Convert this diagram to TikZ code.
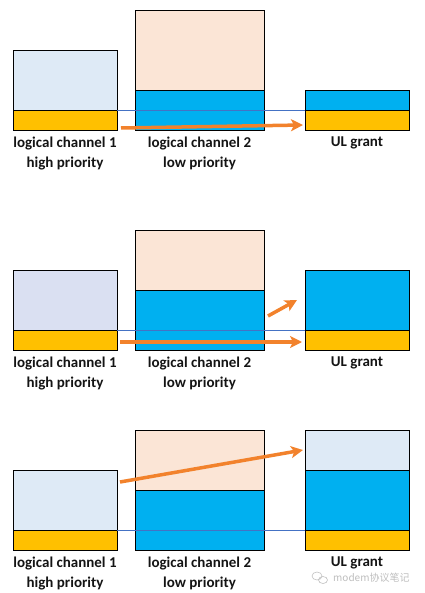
\documentclass[tikz,border=0pt]{standalone}
\usepackage{fontspec}
\setmainfont{Carlito}
\newfontfamily\cjk{Noto Sans CJK SC}
\usetikzlibrary{arrows.meta,positioning}
\definecolor{lcSky}   {RGB}{222,234,246}
\definecolor{lcLav}   {RGB}{218,224,242}
\definecolor{lcPeach} {RGB}{251,229,214}
\definecolor{lcBlue}  {RGB}{  0,176,240}
\definecolor{lcGold}  {RGB}{255,192,  0}
\definecolor{lcOrange}{RGB}{242,130, 44}
\definecolor{lcLine}  {RGB}{ 68,114,196}
\definecolor{lcInk}   {RGB}{ 20, 20, 20}
\definecolor{lcMark}  {RGB}{190,190,190}

\begin{document}
\begin{tikzpicture}[x=1pt,y=-1pt,
  font=\fontsize{15}{20}\selectfont\bfseries,
  cell/.style={rectangle,draw=black,line width=0.75pt,inner sep=0pt,
               outer sep=0pt,minimum width=104pt},
  wide/.style={cell,minimum width=129pt},
  lbl/.style={align=center,inner sep=0pt,text=lcInk},
  level/.style={draw=lcLine,line width=0.8pt},
  grant/.style={draw=lcOrange,line width=3.5pt,
                -{Stealth[length=12pt,width=12pt,inset=3pt]}}
]
\useasboundingbox (0,0) rectangle (424,593);

% --- Case 1: grant fits channel 1 only
\node[cell,fill=lcSky,minimum height=60pt,anchor=north west] (a1t) at (13,50) {};
\node[cell,fill=lcGold,minimum height=20pt,below=0pt of a1t] (a1y) {};
\node[wide,fill=lcPeach,minimum height=80pt,anchor=north west] (b1t) at (135,10) {};
\node[wide,fill=lcBlue,minimum height=40pt,below=0pt of b1t] (b1b) {};
\node[cell,fill=lcBlue,minimum height=20pt,anchor=north west] (c1t) at (305,90) {};
\node[cell,fill=lcGold,minimum height=20pt,below=0pt of c1t] (c1y) {};
\draw[level] (a1t.south east) -- (c1y.north west);
\node[lbl,below=7pt of a1y] (a1l) {logical channel 1\\high priority};
\node[lbl,below=7pt of b1b] (b1l) {logical channel 2\\low priority};
\node[lbl,below=7pt of c1y] (c1l) {UL grant};
\coordinate (p1s) at ([xshift=4pt,yshift=2pt]a1y.south east);
\coordinate (p1e) at ([xshift=-2pt,yshift=-5pt]c1y.west);
\draw[grant] (p1s) -- (p1e);

% --- Case 2: leftover goes to channel 2
\node[cell,fill=lcLav,minimum height=60pt,anchor=north west] (a2t) at (13,270) {};
\node[cell,fill=lcGold,minimum height=20pt,below=0pt of a2t] (a2y) {};
\node[wide,fill=lcPeach,minimum height=60pt,anchor=north west] (b2t) at (135,230) {};
\node[wide,fill=lcBlue,minimum height=60pt,below=0pt of b2t] (b2b) {};
\node[cell,fill=lcBlue,minimum height=60pt,anchor=north west] (c2t) at (305,270) {};
\node[cell,fill=lcGold,minimum height=20pt,below=0pt of c2t] (c2y) {};
\draw[level] (a2t.south east) -- (c2y.north west);
\node[lbl,below=7pt of a2y] (a2l) {logical channel 1\\high priority};
\node[lbl,below=7pt of b2b] (b2l) {logical channel 2\\low priority};
\node[lbl,below=7pt of c2y] (c2l) {UL grant};
\draw[grant] ([xshift=3pt,yshift=-2pt]a2y.east) -- ([xshift=-3pt,yshift=-2pt]c2y.west);
\draw[grant] ([xshift=4pt,yshift=4pt]b2b.east) -- ([xshift=-8pt]c2t.west);

% --- Case 3: channel 1 takes the larger grant
\node[cell,fill=lcSky,minimum height=60pt,anchor=north west] (a3t) at (13,470) {};
\node[cell,fill=lcGold,minimum height=20pt,below=0pt of a3t] (a3y) {};
\node[wide,fill=lcPeach,minimum height=60pt,anchor=north west] (b3t) at (135,430) {};
\node[wide,fill=lcBlue,minimum height=60pt,below=0pt of b3t] (b3b) {};
\node[cell,fill=lcSky,minimum height=40pt,anchor=north west] (c3s) at (305,430) {};
\node[cell,fill=lcBlue,minimum height=60pt,below=0pt of c3s] (c3t) {};
\node[cell,fill=lcGold,minimum height=20pt,below=0pt of c3t] (c3y) {};
\draw[level] (a3t.south east) -- (c3y.north west);
\node[lbl,below=7pt of a3y] (a3l) {logical channel 1\\high priority};
\node[lbl,below=7pt of b3b] (b3l) {logical channel 2\\low priority};
\node[lbl,below=7pt of c3y] (c3l) {UL grant};
\draw[grant] ([xshift=3pt,yshift=-12pt]a3t.north east) -- ([xshift=-2pt]c3s.west);

% --- watermark
\draw[lcMark,line width=0.6pt] (317,576) ellipse (5 and 4);
\draw[lcMark,line width=0.6pt] (323,580) ellipse (4.5 and 3.5);
\node[text=lcMark,font=\cjk\fontsize{10}{12}\selectfont,anchor=west,inner sep=0pt]
  (mark) at (333,578) {modem协议笔记};
\end{tikzpicture}
\end{document}
